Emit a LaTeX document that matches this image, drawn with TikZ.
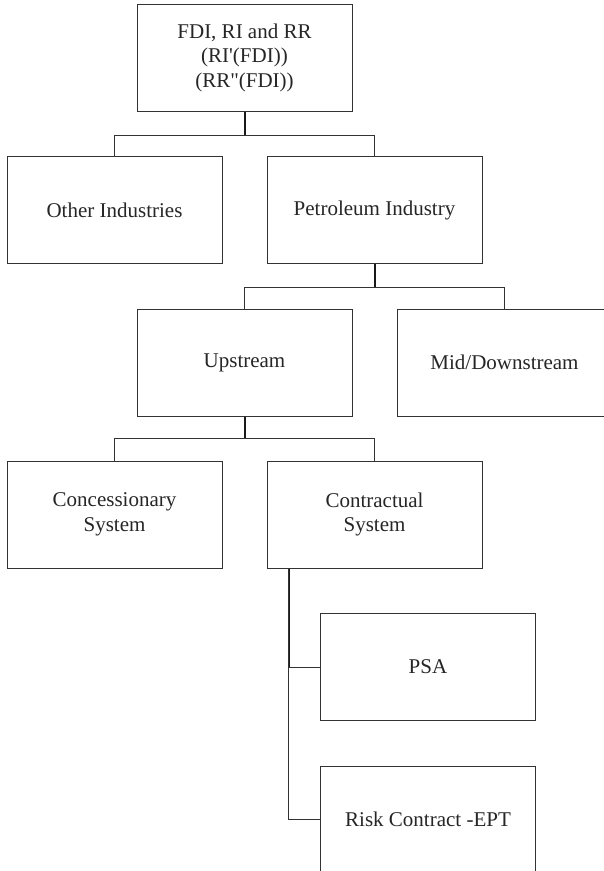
\documentclass[tikz,border=0pt]{standalone}
\usepackage{fontspec}
\setmainfont{Liberation Serif}
\begin{document}
\begin{tikzpicture}[x=1pt,y=-1pt,
  box/.style={draw=black!80, line width=1pt, minimum width=215pt, minimum height=107pt, inner sep=0pt,
    align=center, text=black!85, font=\fontsize{21}{24.5}\selectfont},
  conn/.style={draw=black!80, line width=1pt},
  stem/.style={draw=black!90, line width=2pt}]
\clip (0,0) rectangle (604,871);
\fill[white] (0,0) rectangle (604,871);
\node[box] (top) at (244.5,57.5) {FDI, RI and RR\\(RI\textquotesingle(FDI))\\(RR\textquotedbl(FDI))};
\node[box] (other) at (114.5,210) {Other Industries};
\node[box] (pet) at (374.5,210) {Petroleum Industry};
\node[box] (up) at (244.5,363) {Upstream};
\node[box] (mid) at (504.5,362.5) {Mid/Downstream};
\node[box] (conc) at (114.5,514.5) {Concessionary\\System};
\node[box] (contr) at (374.5,514.5) {Contractual\\System};
\node[box] (psa) at (428,667) {PSA};
\node[box] (risk) at (428,819.5) {Risk Contract -EPT};
% connectors
\draw[stem] (top.south) -- ++(0,24);
\draw[conn] (other.north) -- ++(0,-21) -| (pet.north);
\draw[stem] (pet.south) -- ++(0,23);
\draw[conn] (up.north) -- ++(0,-22) -| (mid.north);
\draw[stem] (up.south) -- ++(0,22);
\draw[conn] (conc.north) -- ++(0,-22) -| (contr.north);
\coordinate (cs) at ([xshift=22pt]contr.south west);
\draw[stem] (cs) -- (cs |- psa.west);
\draw[conn] (cs) |- (psa.west);
\draw[conn] (cs) |- (risk.west);
\end{tikzpicture}
\end{document}
